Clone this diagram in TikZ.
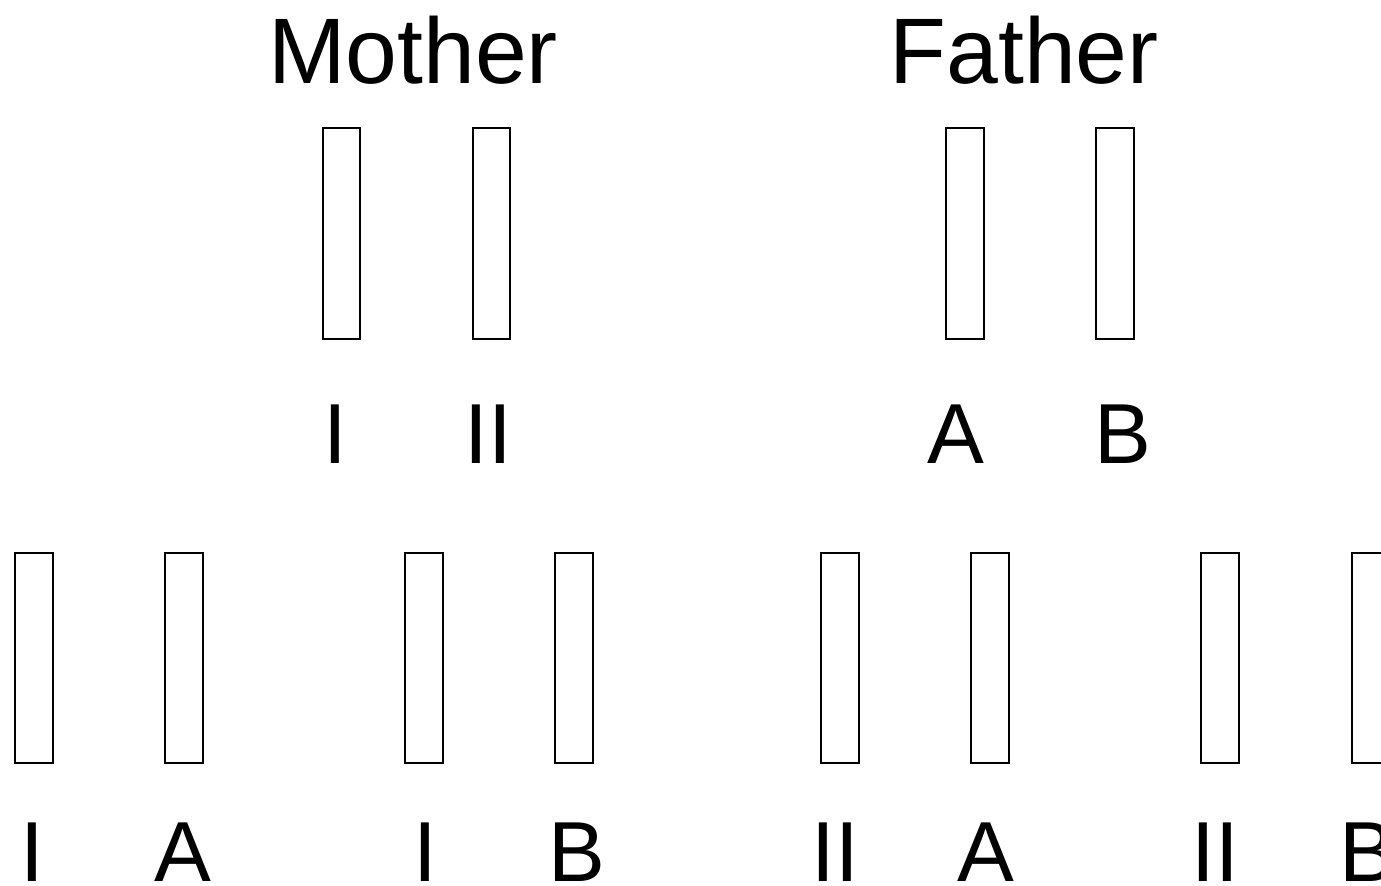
\documentclass[tikz,border=0pt]{standalone}
\usepackage{fontspec}
\setmainfont{Liberation Sans}
\begin{document}
\begin{tikzpicture}[x=0.02cm,y=-0.02cm,
  chrom/.style={draw=black,line width=1.4pt,fill=white},
  title/.style={anchor=base,inner sep=0pt,font=\fontsize{53pt}{60pt}\selectfont},
  lab/.style={anchor=base,inner sep=0pt,font=\fontsize{48.5pt}{56pt}\selectfont}]
\useasboundingbox (0,0) rectangle (1381,885);
\clip (0,0) rectangle (1381,885);
% titles
\node[title] (mother) at (413,84) {Mother};
\node[title] (father) at (1024,84) {Father};
% top chromosomes
\draw[chrom] (323,128) rectangle (360,339);
\draw[chrom] (473,128) rectangle (510,339);
\draw[chrom] (946,128) rectangle (984,339);
\draw[chrom] (1096,128) rectangle (1134,339);
% top labels
\node[lab] (t1) at (335,463) {I};
\node[lab] (t2) at (488,463) {II};
\node[lab] (t3) at (956,463) {A};
\node[lab] (t4) at (1123,463) {B};
% bottom chromosomes
\foreach \x in {15,165,405,555,821,971,1201,1352}
  \draw[chrom] (\x,553) rectangle (\x+38,763);
% bottom labels
\node[lab] (b1) at (32,881) {I};
\node[lab] (b2) at (183,881) {A};
\node[lab] (b3) at (425,881) {I};
\node[lab] (b4) at (577,881) {B};
\node[lab] (b5) at (835,881) {II};
\node[lab] (b6) at (986,881) {A};
\node[lab] (b7) at (1215,881) {II};
\node[lab] (b8) at (1368,881) {B};
\end{tikzpicture}
\end{document}
